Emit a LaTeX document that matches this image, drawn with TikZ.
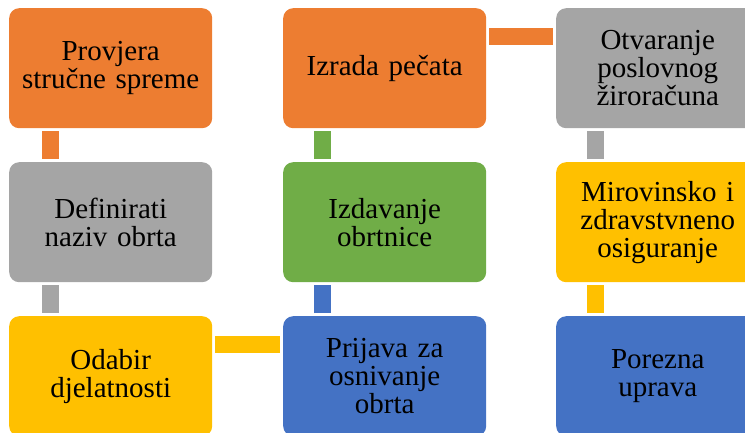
\documentclass[tikz,border=0pt]{standalone}
\usepackage{fontspec}
\setmainfont{Liberation Serif}
\usetikzlibrary{calc}
\definecolor{cOrange}{HTML}{ED7D31}
\definecolor{cGray}{HTML}{A5A5A5}
\definecolor{cYellow}{HTML}{FFC000}
\definecolor{cBlue}{HTML}{4472C4}
\definecolor{cGreen}{HTML}{70AD47}
\begin{document}
\begin{tikzpicture}[x=1pt,y=-1pt,
  box/.style={rounded corners=10pt, minimum width=203pt, minimum height=120pt,
    inner sep=0pt, align=center, text width=195pt, anchor=north west,
    font=\fontsize{29}{28}\selectfont, text=black},
  conn/.style={line width=17.5pt}]
\useasboundingbox (0,0) rectangle (745,432);
\clip (0,0) rectangle (745,432);
% boxes
\node[box, fill=cOrange] (prov) at (9,8) {Provjera\\stručne spreme};
\node[box, fill=cGray] (def) at (9,162) {Definirati\\naziv obrta};
\node[box, fill=cYellow] (oda) at (9,316) {Odabir\\djelatnosti};
\node[box, fill=cBlue] (pri) at (283,316) {Prijava za\\osnivanje\\obrta};
\node[box, fill=cGreen] (izd) at (283,162) {Izdavanje\\obrtnice};
\node[box, fill=cOrange] (izr) at (283,8) {Izrada pečata};
\node[box, fill=cGray] (otv) at (556,8) {Otvaranje\\poslovnog\\žiroračuna};
\node[box, fill=cYellow] (mir) at (556,162) {Mirovinsko i\\zdravstvneno\\osiguranje};
\node[box, fill=cBlue] (por) at (556,316) {Porezna\\uprava};
% connectors
\draw[conn, cOrange] ($(prov.south west)+(41.5,3)$) -- ($(def.north west)+(41.5,-3)$);
\draw[conn, cGray] ($(def.south west)+(41.5,3)$) -- ($(oda.north west)+(41.5,-3)$);
\draw[conn, cYellow] ($(oda.north east)+(3,28.5)$) -- ($(pri.north west)+(-3,28.5)$);
\draw[conn, cBlue] ($(pri.north west)+(39.5,-3)$) -- ($(izd.south west)+(39.5,3)$);
\draw[conn, cGreen] ($(izd.north west)+(39.5,-3)$) -- ($(izr.south west)+(39.5,3)$);
\draw[conn, cOrange] ($(izr.north east)+(3,28.5)$) -- ($(otv.north west)+(-3,28.5)$);
\draw[conn, cGray] ($(otv.south west)+(39.5,3)$) -- ($(mir.north west)+(39.5,-3)$);
\draw[conn, cYellow] ($(mir.south west)+(39.5,3)$) -- ($(por.north west)+(39.5,-3)$);
\end{tikzpicture}
\end{document}
